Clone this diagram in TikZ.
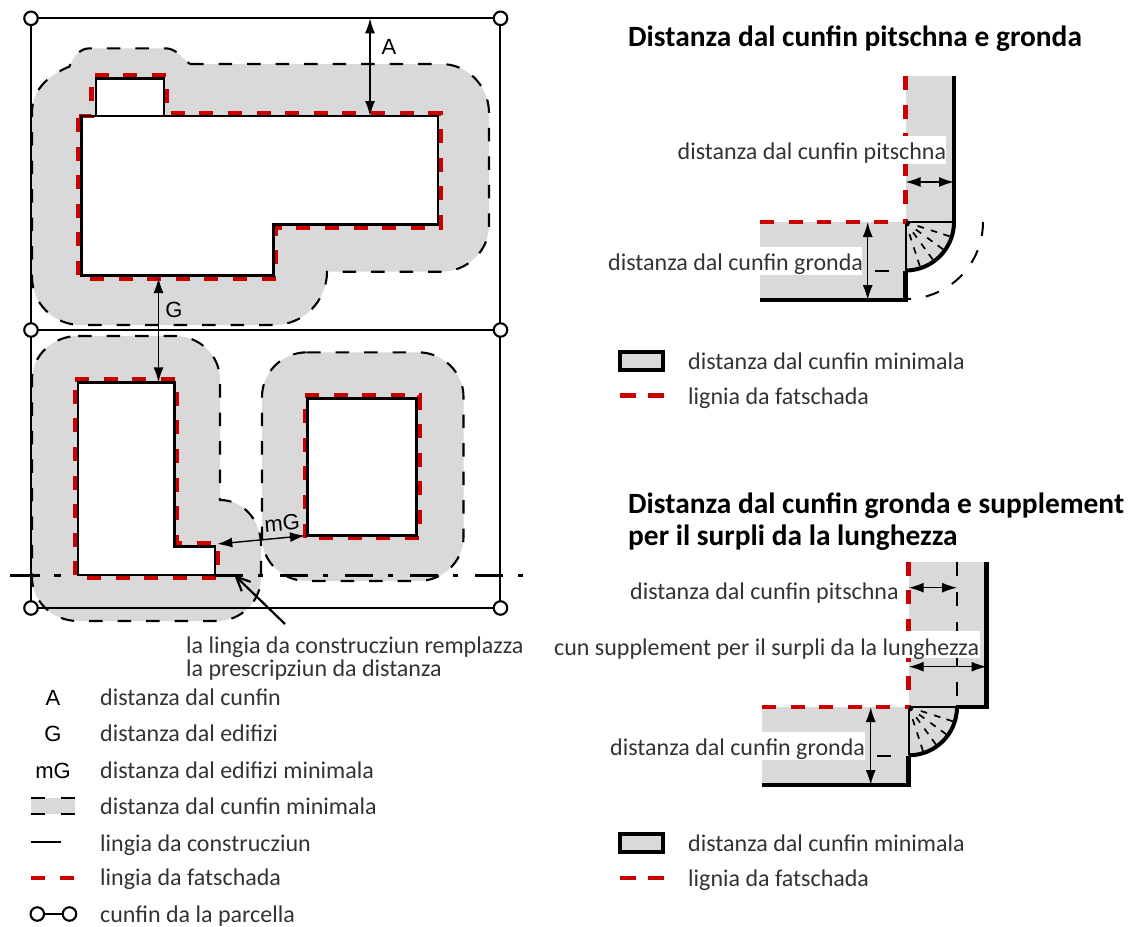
\documentclass[tikz,border=0pt]{standalone}
\usepackage{fontspec}
\setmainfont{Carlito}
\newfontfamily\arialf{Liberation Sans}
\usetikzlibrary{arrows.meta}
\definecolor{zonegray}{HTML}{D9D9D9}
\definecolor{facered}{HTML}{CC0000}
\definecolor{txt}{HTML}{333333}
\tikzset{
  zone/.style={fill=zonegray,draw=black,line width=2.1,dash pattern=on 13.5 off 15},
  facade/.style={draw=facered,line width=4.6,dash pattern=on 14 off 14.6},
  build/.style={fill=none,draw=black,line width=2.9,line join=miter},
  parcel/.style={draw=black,line width=2.1},
  pin/.style={circle,draw=black,fill=white,line width=2.1,minimum size=13.5,inner sep=0},
  thick line/.style={draw=black,line width=4.6},
  dim/.style={draw=black,line width=1.4,{Latex[length=15,width=10]}-{Latex[length=15,width=10]}},
  body/.style={anchor=base west,inner sep=0,text=txt,font=\fontsize{24}{28}\selectfont},
  sym/.style={anchor=base,inner sep=0,text=black,font=\arialf\fontsize{22}{26}\selectfont},
  head/.style={anchor=base west,inner sep=0,text=black,font=\bfseries\fontsize{29.4}{34}\selectfont},
}
% one eave corner: #1,#2 = centre, #3 = radius
\newcommand{\eave}[3]{%
  \fill[zonegray] (#1,#2) -- (#1+#3,#2) to[out=-90,in=0] (#1,#2+#3) -- cycle;
  \foreach \a in {18,36,54,72}{\foreach \r in {16,30,43}{
    \draw[black,line width=1.7] ({#1+(\r-3.3)*cos(\a)},{#2+(\r-3.3)*sin(\a)}) -- ({#1+(\r+3.3)*cos(\a)},{#2+(\r+3.3)*sin(\a)});}}
  \fill[black] (#1,#2) -- (#1+5,#2) to[out=-90,in=0] (#1,#2+5) -- cycle;
  \draw[black,line width=2] (#1,#2+#3) -- (#1,#2) -- (#1+#3,#2);
  \draw[black,line width=4] (#1+#3,#2) to[out=-90,in=0] (#1,#2+#3);
}
\begin{document}
\begin{tikzpicture}[x=1pt,y=-1pt]
\useasboundingbox (0,0) rectangle (1128,927);
% ---- plot: zones
\path[zone] (190,64) -- (441,64) to[out=0,in=90] (489,113) -- (489,225) to[out=-90,in=0] (441,271.7) -- (327,271.7)
  to[out=-90,in=0] (274,325) -- (81,325) to[out=180,in=-90] (32,277) -- (32,113) to[out=90,in=205] (66,68) -- (69.3,66.7)
  to[out=65,in=180] (90,48.3) -- (165,48.3) to[out=0,in=145] cycle;
\path[zone] (78,336) -- (175,336) to[out=0,in=90] (220,380) -- (220,500) to[out=0,in=90] (261,545) -- (261,577)
  to[out=-90,in=0] (217,621) -- (78,621) to[out=180,in=-90] (32,577) -- (32,380) to[out=90,in=180] cycle;
\path[zone] (307,352.3) -- (418,352.3) to[out=0,in=90] (463.5,397) -- (463.5,537) to[out=-90,in=0] (418,581) -- (307,581)
  to[out=180,in=-90] (262,537) -- (262,397) to[out=90,in=180] cycle;
% ---- buildings
\fill[white] (96,78.3) rectangle (164,116);
\fill[white] (81.5,116) -- (438,116) -- (438,224.7) -- (273.5,224.7) -- (273.5,275.7) -- (81.5,275.7) -- cycle;
\fill[white] (78,382.3) -- (174.6,382.3) -- (174.6,546.7) -- (215,546.7) -- (215,575) -- (78,575) -- cycle;
\fill[white] (307.5,398.3) rectangle (416.7,535.7);
% ---- facade lines
\draw[facade] (78.6,116) -- (91.7,116) -- (91.7,75) -- (166.7,75) -- (166.7,113.5) -- (441,113.5) -- (441,227.3) -- (276,227.3) -- (276,278.3) -- (78.6,278.3) -- cycle;
\draw[facade] (75,379.3) -- (177,379.3) -- (177,543.5) -- (217.7,543.5) -- (217.7,577.7) -- (75,577.7) -- cycle;
\draw[facade] (305,395.7) -- (419.5,395.7) -- (419.5,538) -- (305,538) -- cycle;
% ---- construction lines
\draw[build] (96,116) -- (96,78.3) -- (164,78.3) -- (164,116);
\draw[build] (81.5,116) -- (438,116) -- (438,224.7) -- (273.5,224.7) -- (273.5,275.7) -- (81.5,275.7) -- cycle;
\draw[build] (78,382.3) -- (174.6,382.3) -- (174.6,546.7) -- (215,546.7) -- (215,575) -- (78,575) -- cycle;
\draw[build] (307.5,398.3) rectangle (416.7,535.7);
% ---- parcels
\draw[parcel] (31,18.3) rectangle (500,330);
\draw[parcel] (31,330) rectangle (500,608);
\node[pin] (p1) at (31,18.3) {};
\node[pin] (p2) at (500.5,18.3) {};
\node[pin] (p3) at (31,330) {};
\node[pin] (p4) at (500.5,330) {};
\node[pin] (p5) at (31,608) {};
\node[pin] (p6) at (500.5,608) {};
% ---- building line
\draw[black,line width=3,dash pattern=on 30 off 14 on 7 off 15] (9.5,575) -- (75,575);
\draw[black,line width=3,dash pattern=on 28 off 15 on 5 off 17] (215,575) -- (526,575);
% ---- dimensions
\draw[dim] (370,18.3) -- (370,116);
\node[sym] (la) at (389,54) {A};
\draw[dim] (158.5,278) -- (158.5,382.3);
\node[sym] (lg) at (174,317) {G};
\draw[dim] (217.3,544) -- (305,535.7);
\node[sym,rotate=5] (lm) at (282.7,530.5) {mG};
\draw[black,line width=2.2,-{Straight Barb[length=14,width=13]}] (285,624) -- (234.3,575);
\node[body] (t1) at (186,653.7) {la lingia da construcziun remplazza};
\node[body] (t2) at (186,676.5) {la prescripziun da distanza};
% ---- left legend
\node[sym] (s1) at (53,705) {A};
\node[body] (l1) at (100,705.5) {distanza dal cunfin};
\node[sym] (s2) at (53,741) {G};
\node[body] (l2) at (100,741) {distanza dal edifizi};
\node[sym] (s3) at (53,778) {mG};
\node[body] (l3) at (100,778) {distanza dal edifizi minimala};
\fill[zonegray] (31,797.5) rectangle (75,814);
\draw[black,line width=2,dash pattern=on 14 off 16] (31,797.5) -- (75,797.5);
\draw[black,line width=2,dash pattern=on 14 off 16] (31,814) -- (75,814);
\node[body] (l4) at (100,814) {distanza dal cunfin minimala};
\draw[black,line width=2.9] (31,842) -- (61,842);
\node[body] (l5) at (100,851) {lingia da construcziun};
\draw[facade] (31,878) -- (76,878);
\node[body] (l6) at (100,885) {lingia da fatschada};
\node[pin] (c1) at (37.3,914) {};
\node[pin] (c2) at (69.5,914) {};
\draw[black,line width=2.1] (c1) -- (c2);
\node[body] (l7) at (100,922) {cunfin da la parcella};
% ---- right top
\node[head] (h1) at (628,46) {Distanza dal cunfin pitschna e gronda};
\fill[zonegray] (905.5,76) rectangle (954,222);
\fill[zonegray] (760,222) rectangle (905.5,300);
\eave{905.5}{222}{48.5}
\draw[facade] (905.5,76) -- (905.5,222);
\draw[facade] (760,222) -- (905.5,222);
\draw[black,line width=2] (905.5,222) -- (954,222);
\draw[thick line] (954,76) -- (954,222);
\draw[thick line,line join=miter] (760,300) -- (905.5,300) -- (905.5,270.5);
\draw[black,line width=2,dash pattern=on 14 off 15] (983,222) to[out=-90,in=0] (906,299);
\fill[white] (677,136) rectangle (946,164);
\node[body] (d1) at (677.5,159) {distanza dal cunfin pitschna};
\draw[dim] (905.5,182) -- (954,182);
\fill[white] (608,247) rectangle (862,275);
\node[body] (d2) at (608,270) {distanza dal cunfin gronda};
\draw[dim] (867.7,222) -- (867.7,300);
\draw[black,line width=2] (875,270.7) -- (889,270.7);
\draw[fill=zonegray,draw=black,line width=4] (620,351.5) rectangle (663,370);
\node[body] (d3) at (688,369) {distanza dal cunfin minimala};
\draw[facade,dash pattern=on 16 off 12] (620,395.5) -- (664,395.5);
\node[body] (d4) at (688,404) {lignia da fatschada};
% ---- right bottom
\node[head] (h2) at (628,513) {Distanza dal cunfin gronda e supplement};
\node[head] (h3) at (628,545) {per il surpli da la lunghezza};
\fill[zonegray] (908.7,561.7) rectangle (986.5,707);
\fill[zonegray] (762,707) rectangle (908.7,785);
\eave{908.7}{707}{48.3}
\draw[black,line width=2,dash pattern=on 14 off 16] (957,562) -- (957,707);
\draw[facade] (908.7,561.7) -- (908.7,707);
\draw[facade] (762,707) -- (908.7,707);
\draw[black,line width=2] (908.7,707) -- (957,707);
\draw[thick line] (986.5,561.7) -- (986.5,707) -- (956,707);
\draw[thick line,line join=miter] (762,785) -- (908.7,785) -- (908.7,755.5);
\node[body] (e1) at (630,599) {distanza dal cunfin pitschna};
\draw[dim] (908.7,587.7) -- (957,587.7);
\fill[white] (553,631) rectangle (980,658);
\node[body] (e2) at (554,655) {cun supplement per il surpli da la lunghezza};
\draw[dim] (908.7,666.7) -- (986.5,666.7);
\fill[white] (610,731.7) rectangle (865,760);
\node[body] (e3) at (610,755) {distanza dal cunfin gronda};
\draw[dim] (870.7,707) -- (870.7,785);
\draw[black,line width=2] (877,755.7) -- (891,755.7);
\draw[fill=zonegray,draw=black,line width=4] (620,834) rectangle (663,852);
\node[body] (e4) at (688,851.5) {distanza dal cunfin minimala};
\draw[facade,dash pattern=on 16 off 12] (620,878) -- (664,878);
\node[body] (e5) at (688,886) {lignia da fatschada};
\end{tikzpicture}
\end{document}
